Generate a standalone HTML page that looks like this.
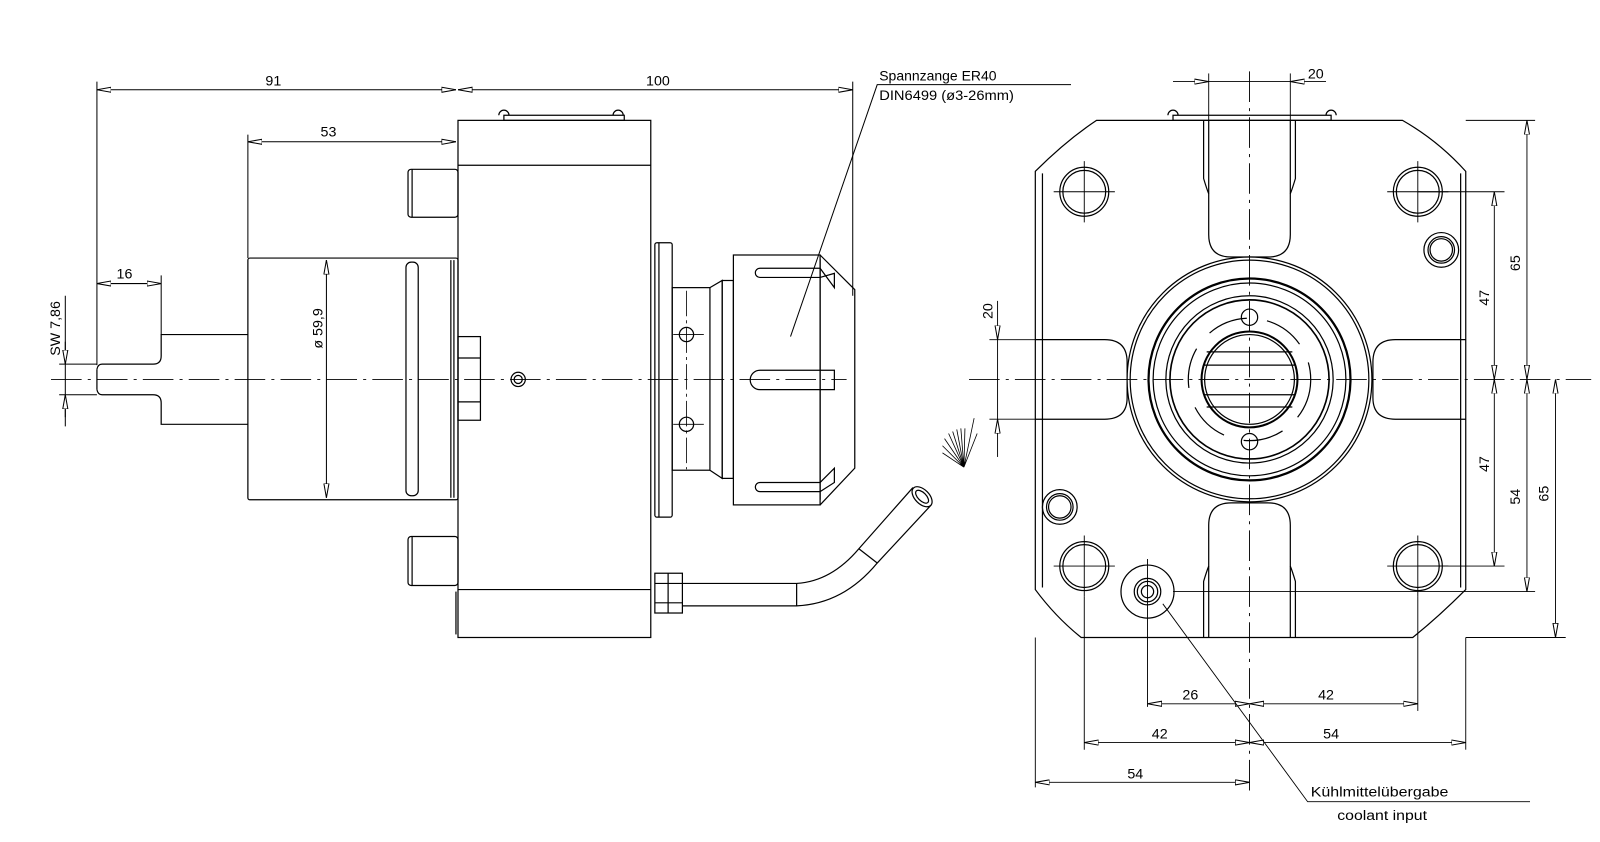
<!DOCTYPE html>
<html><head><meta charset="utf-8"><style>
html,body{margin:0;padding:0;background:#fff;}
svg{display:block}
text{font-family:"Liberation Sans",sans-serif;font-size:14px;fill:#000}
</style></head><body>
<svg width="1600" height="842" viewBox="0 0 1568.6 825.5" xmlns="http://www.w3.org/2000/svg">
<defs>
<marker id="a" viewBox="0 0 14 6" refX="14" refY="3" markerWidth="14" markerHeight="6" orient="auto-start-reverse" markerUnits="userSpaceOnUse">
<path d="M0,0.5 L14,3 L0,5.5 Z" fill="#fff" stroke="#000" stroke-width="1"/></marker>
</defs>
<g fill="none" stroke="#000" stroke-width="1.2">
<!-- LEFT VIEW -->
<!-- dims -->
<line x1="95" y1="80" x2="95" y2="358" stroke-width="1"/>
<line x1="95" y1="88" x2="447" y2="88" marker-start="url(#a)" marker-end="url(#a)" stroke-width="1"/>
<line x1="449" y1="88" x2="836" y2="88" marker-start="url(#a)" marker-end="url(#a)" stroke-width="1"/>
<line x1="836" y1="80" x2="836" y2="290" stroke-width="1"/>
<line x1="243" y1="132" x2="243" y2="253" stroke-width="1"/>
<line x1="243" y1="139" x2="447" y2="139" marker-start="url(#a)" marker-end="url(#a)" stroke-width="1"/>
<line x1="158" y1="270" x2="158" y2="328" stroke-width="1"/>
<line x1="95" y1="278" x2="158" y2="278" marker-start="url(#a)" marker-end="url(#a)" stroke-width="1"/>
<line x1="64" y1="290" x2="64" y2="418" stroke-width="1"/>
<line x1="58" y1="357" x2="95" y2="357" stroke-width="1"/>
<line x1="58" y1="387" x2="95" y2="387" stroke-width="1"/>
<line x1="64" y1="335" x2="64" y2="357" marker-end="url(#a)" stroke-width="1"/>
<line x1="64" y1="409" x2="64" y2="387" marker-end="url(#a)" stroke-width="1"/>
<!-- shaft -->
<path d="M95,362 Q96,357 100,357 L150,357 Q158,357 158,349 L158,328 L243,328"/>
<path d="M95,382 Q96,387 100,387 L150,387 Q158,387 158,395 L158,416 L243,416"/>
<line x1="95" y1="362" x2="95" y2="382"/>
<!-- cylinder -->
<rect x="243" y="253" width="206" height="237" rx="2"/>
<rect x="398" y="257" width="12" height="229" rx="5"/>
<line x1="442" y1="255" x2="442" y2="488"/>
<line x1="445" y1="255" x2="445" y2="488"/>
<line x1="320" y1="255" x2="320" y2="488" marker-start="url(#a)" marker-end="url(#a)" stroke-width="1"/>
<!-- studs -->
<rect x="400" y="166" width="49" height="47" rx="3"/>
<line x1="404" y1="166" x2="404" y2="213"/>
<rect x="400" y="526" width="49" height="48" rx="3"/>
<line x1="404" y1="526" x2="404" y2="574"/>
<!-- body -->
<rect x="449" y="118" width="189" height="507"/>
<line x1="449" y1="162" x2="638" y2="162"/>
<line x1="449" y1="578" x2="638" y2="578"/>
<line x1="447" y1="580" x2="447" y2="622"/>
<rect x="494" y="113" width="118" height="5"/>
<path d="M489,113 a5,5 0 0 1 10,0"/><path d="M601,113 a5,5 0 0 1 10,0"/>
<!-- hex boss -->
<rect x="449" y="330" width="22" height="82"/>
<line x1="449" y1="351" x2="471" y2="351"/><line x1="449" y1="394" x2="471" y2="394"/>
<circle cx="508" cy="372" r="7"/><circle cx="508" cy="372" r="4"/>
<!-- flange etc -->
<rect x="642" y="238" width="17" height="269" rx="2"/>
<line x1="646" y1="238" x2="646" y2="507"/>
<rect x="659" y="282" width="37" height="179"/>
<path d="M696,282 L708,275 L708,469 L696,461"/>
<rect x="708" y="275" width="11" height="194"/>
<rect x="719" y="250" width="85" height="245"/>
<path d="M804,250 L838,284 L838,459 L804,495"/>
<path d="M804,254 L804,490"/>
<path d="M745,263 L804,263 L818,282 L818,268 L804,272 L745,272 A4.5,4.5 0 0 1 745,263Z"/>
<path d="M745,363 L818,363 L818,382 L745,382 A9.5,9.5 0 0 1 745,363Z"/>
<path d="M745,473 L804,473 L818,459 L818,473 L804,482 L745,482 A4.5,4.5 0 0 1 745,473Z"/>
<circle cx="673" cy="328" r="7"/><circle cx="673" cy="416" r="7"/>
<line x1="660" y1="328" x2="690" y2="328" stroke-width="0.8"/><line x1="660" y1="416" x2="690" y2="416" stroke-width="0.8"/>
<line x1="673" y1="285" x2="673" y2="460" stroke-width="0.8" stroke-dasharray="25,4,3,4"/>
<!-- center line -->
<line x1="50" y1="372" x2="830" y2="372" stroke-width="0.8" stroke-dasharray="30,6,3,6"/>
<!-- leader -->
<path d="M775,330 L860,83 L1050,83" stroke-width="1"/>
<!-- pipe -->
<rect x="642" y="562" width="27" height="39"/>
<line x1="642" y1="572" x2="669" y2="572"/><line x1="642" y1="591" x2="669" y2="591"/>
<line x1="655" y1="562" x2="655" y2="601"/>
<path d="M669,572 L781,572 Q815,570 842,538 L895,478"/>
<path d="M669,594 L781,594 Q827,592 860,552 L913,495"/>
<line x1="781" y1="572" x2="781" y2="594"/>
<line x1="842" y1="538" x2="860" y2="552"/>
<ellipse cx="904" cy="487" rx="7" ry="12" transform="rotate(-45 904 487)"/>
<ellipse cx="904" cy="487" rx="4" ry="8" transform="rotate(-45 904 487)"/>
<g stroke-width="0.8">
<path d="M945,458 L930,425 M945,458 L934,423 M945,458 L938,421 M945,458 L942,420 M945,458 L946,420 M945,458 L926,430 M945,458 L924,437 M945,458 L924,444 M945,458 L958,425 M945,458 L955,410"/>
</g>

<!-- RIGHT VIEW -->
<path d="M1075,118 L1375,118 Q1410,138 1437,168 L1437,578 Q1410,605 1385,625 L1060,625 Q1035,605 1015,578 L1015,168 Q1045,138 1075,118Z"/>
<line x1="1022" y1="170" x2="1022" y2="576"/>
<line x1="1432" y1="170" x2="1432" y2="576"/>
<rect x="1150" y="113" width="155" height="5"/>
<path d="M1145,113 a5,5 0 0 1 10,0"/><path d="M1300,113 a5,5 0 0 1 10,0"/>
<!-- slots -->
<path d="M1185,118 L1185,230 Q1185,252 1207,252 L1243,252 Q1265,252 1265,230 L1265,118"/>
<path d="M1180,118 L1180,175 Q1183,185 1185,190 M1270,118 L1270,175 Q1267,185 1265,190"/>
<path d="M1185,625 L1185,515 Q1185,493 1207,493 L1243,493 Q1265,493 1265,515 L1265,625"/>
<path d="M1180,625 L1180,570 Q1183,560 1185,555 M1270,625 L1270,570 Q1267,560 1265,555"/>
<path d="M1015,333 L1083,333 Q1105,333 1105,355 L1105,390 Q1105,411 1083,411 L1015,411"/>
<path d="M1437,333 L1368,333 Q1346,333 1346,355 L1346,390 Q1346,411 1368,411 L1437,411"/>
<!-- central rings -->
<circle cx="1225" cy="372" r="120" fill="#fff"/>
<circle cx="1225" cy="372" r="117"/>
<circle cx="1225" cy="372" r="99" stroke-width="2.2"/>
<circle cx="1225" cy="372" r="94.5"/>
<circle cx="1225" cy="372" r="82"/>
<circle cx="1225" cy="372" r="78" stroke-width="1.6"/>
<circle cx="1225" cy="372" r="60" stroke-dasharray="40,20"/>
<circle cx="1225" cy="372" r="47" stroke-width="2"/>
<circle cx="1225" cy="372" r="44"/>
<line x1="1183" y1="345" x2="1267" y2="345"/><line x1="1180" y1="358" x2="1270" y2="358"/>
<line x1="1180" y1="387" x2="1270" y2="387"/><line x1="1183" y1="399" x2="1267" y2="399"/>
<circle cx="1225" cy="311" r="8"/><circle cx="1225" cy="433" r="8"/>
<!-- holes -->
<g>
<circle cx="1063" cy="188" r="24"/><circle cx="1063" cy="188" r="21"/>
<circle cx="1390" cy="188" r="24"/><circle cx="1390" cy="188" r="21"/>
<circle cx="1063" cy="555" r="24"/><circle cx="1063" cy="555" r="21"/>
<circle cx="1390" cy="555" r="24"/><circle cx="1390" cy="555" r="21"/>
<circle cx="1413" cy="245" r="17"/><circle cx="1413" cy="245" r="13"/><circle cx="1413" cy="245" r="11"/>
<circle cx="1039" cy="497" r="17"/><circle cx="1039" cy="497" r="13"/><circle cx="1039" cy="497" r="11"/>
<circle cx="1125" cy="580" r="26"/><circle cx="1125" cy="580" r="13"/><circle cx="1125" cy="580" r="10"/><circle cx="1125" cy="580" r="6"/>
</g>
<g stroke-width="0.9">
<path d="M1033,188 H1093 M1063,158 V218 M1360,188 H1420 M1390,158 V218 M1033,555 H1093 M1063,525 V585 M1360,555 H1420 M1390,525 V585"/>
<line x1="1125" y1="548" x2="1125" y2="693"/>
<line x1="1063" y1="585" x2="1063" y2="735"/>
<line x1="1390" y1="585" x2="1390" y2="697"/>
<line x1="1015" y1="625" x2="1015" y2="772"/>
<line x1="1437" y1="625" x2="1437" y2="735"/>
<line x1="1225" y1="70" x2="1225" y2="775" stroke-dasharray="30,6,3,6"/>
<line x1="950" y1="372" x2="1560" y2="372" stroke-dasharray="30,6,3,6"/>
<line x1="1185" y1="72" x2="1185" y2="118"/><line x1="1265" y1="72" x2="1265" y2="118"/>
<line x1="1150" y1="80" x2="1185" y2="80" marker-end="url(#a)"/>
<line x1="1185" y1="80" x2="1265" y2="80"/>
<line x1="1300" y1="80" x2="1265" y2="80" marker-end="url(#a)"/>
<line x1="970" y1="333" x2="1015" y2="333"/><line x1="970" y1="411" x2="1015" y2="411"/>
<line x1="978" y1="295" x2="978" y2="333" marker-end="url(#a)"/>
<line x1="978" y1="333" x2="978" y2="411"/>
<line x1="978" y1="448" x2="978" y2="411" marker-end="url(#a)"/>
<line x1="1437" y1="118" x2="1505" y2="118"/>
<line x1="1390" y1="188" x2="1475" y2="188"/>
<line x1="1390" y1="555" x2="1475" y2="555"/>
<line x1="1150" y1="580" x2="1505" y2="580"/>
<line x1="1437" y1="625" x2="1535" y2="625"/>
<line x1="1465" y1="188" x2="1465" y2="372" marker-start="url(#a)" marker-end="url(#a)"/>
<line x1="1465" y1="372" x2="1465" y2="555" marker-start="url(#a)" marker-end="url(#a)"/>
<line x1="1497" y1="118" x2="1497" y2="372" marker-start="url(#a)" marker-end="url(#a)"/>
<line x1="1497" y1="372" x2="1497" y2="580" marker-start="url(#a)" marker-end="url(#a)"/>
<line x1="1525" y1="372" x2="1525" y2="625" marker-start="url(#a)" marker-end="url(#a)"/>
<line x1="1125" y1="690" x2="1225" y2="690" marker-start="url(#a)" marker-end="url(#a)"/>
<line x1="1225" y1="690" x2="1390" y2="690" marker-start="url(#a)" marker-end="url(#a)"/>
<line x1="1063" y1="728" x2="1225" y2="728" marker-start="url(#a)" marker-end="url(#a)"/>
<line x1="1225" y1="728" x2="1437" y2="728" marker-start="url(#a)" marker-end="url(#a)"/>
<line x1="1015" y1="767" x2="1225" y2="767" marker-start="url(#a)" marker-end="url(#a)"/>
<path d="M1140,592 L1282,786 L1500,786"/>
</g>
</g>
<!-- texts -->
<text x="268" y="84" text-anchor="middle">91</text>
<text x="645" y="84" text-anchor="middle">100</text>
<text x="322" y="134" text-anchor="middle">53</text>
<text x="122" y="273" text-anchor="middle">16</text>
<text transform="translate(59,322) rotate(-90)" text-anchor="middle">SW 7,86</text>
<text transform="translate(316,322) rotate(-90)" text-anchor="middle" font-size="13">ø 59,9</text>
<text x="862" y="79" textLength="115" lengthAdjust="spacingAndGlyphs">Spannzange ER40</text>
<text x="862" y="98" textLength="132" lengthAdjust="spacingAndGlyphs">DIN6499 (ø3-26mm)</text>
<text x="1290" y="77" text-anchor="middle">20</text>
<text transform="translate(973,305) rotate(-90)" text-anchor="middle">20</text>
<text transform="translate(1490,258) rotate(-90)" text-anchor="middle">65</text>
<text transform="translate(1460,292) rotate(-90)" text-anchor="middle">47</text>
<text transform="translate(1460,455) rotate(-90)" text-anchor="middle">47</text>
<text transform="translate(1490,487) rotate(-90)" text-anchor="middle">54</text>
<text transform="translate(1518,484) rotate(-90)" text-anchor="middle">65</text>
<text x="1167" y="686" text-anchor="middle">26</text>
<text x="1300" y="686" text-anchor="middle">42</text>
<text x="1137" y="724" text-anchor="middle">42</text>
<text x="1305" y="724" text-anchor="middle">54</text>
<text x="1113" y="763" text-anchor="middle">54</text>
<text x="1285" y="781" textLength="135" lengthAdjust="spacingAndGlyphs">Kühlmittelübergabe</text>
<text x="1311" y="804" textLength="88" lengthAdjust="spacingAndGlyphs">coolant input</text>
</svg>
</body></html>
